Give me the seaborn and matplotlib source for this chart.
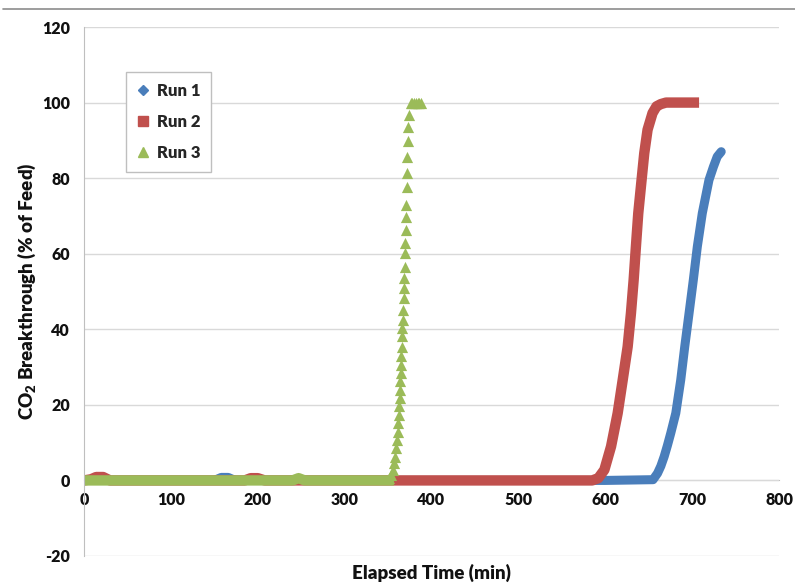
import matplotlib
matplotlib.use('Agg')
import matplotlib.pyplot as plt
from matplotlib.lines import Line2D
import seaborn as sns

# values (time in min, breakthrough in % of feed)
run1_t = [0, 150, 158, 166, 174, 200, 400, 600, 655, 660.2, 664, 667.8, 671.5, 675.4, 681.2,
          686.9, 691.5, 696.5, 701.4, 706.0, 711.7, 719.4, 724.5, 728.9, 733.5]
run1_y = [0, 0, 0.8, 0.8, 0, 0, 0, 0, 0.2, 1.9, 3.8, 6.3, 9.2, 12.5, 17.8,
          26.6, 35.4, 44.3, 53.1, 61.9, 70.7, 79.5, 83.0, 85.7, 87.0]

run2_t = [0, 8, 14, 22, 30, 185, 192, 200, 208, 400, 585, 592, 599, 606.7, 614.3, 620.1,
          625.8, 629.6, 632.7, 635.3, 638.0, 641.8, 644.9, 648.7, 654.4, 659.0, 664.0, 670,
          702]
run2_y = [0, 0.3, 0.9, 0.9, 0, 0, 0.6, 0.6, 0, 0, 0, 0.6, 2.8, 9.0, 17.8, 26.6,
          35.4, 44.3, 53.1, 61.9, 70.7, 79.5, 86.6, 92.8, 97.2, 99.0, 99.6, 100,
          100]

run3_base_t = [0, 240, 247, 254, 350.7]
run3_base_y = [0, 0, 0.6, 0, 0]

run3_t = [350.7, 353.8, 355.7, 357.2, 358.4, 359.1, 360.3, 361.0, 361.8, 362.2, 362.9,
          363.3, 363.7, 364.1, 364.5, 364.9, 365.2, 365.6, 366.0, 366.4, 367.1, 367.5,
          367.9, 368.3, 368.7, 369.1, 369.4, 369.8, 370.2, 370.6, 371.0, 371.3, 371.7,
          372.1, 372.5, 372.9, 374, 376, 378, 380, 382, 384, 386, 388]
run3_y = [0.6, 1.5, 2.8, 4.6, 6.3, 8.5, 10.7, 12.9, 15.2, 17.4, 19.6,
          21.8, 24.0, 26.2, 28.4, 30.6, 32.8, 35.4, 38.1, 40.3, 42.5, 45.1,
          48.2, 50.9, 53.5, 56.6, 60.1, 62.8, 66.3, 69.8, 72.9, 77.6, 81.3,
          85.5, 89.7, 93.6, 96.7, 100, 100, 100, 100, 100, 100, 100]

run_labels = ['Run 1', 'Run 2', 'Run 3']
run_colors = ['#4a7ebb', '#c0504d', '#9bbb59']

x_ticks = [0, 100, 200, 300, 400, 500, 600, 700, 800]
y_ticks = [-20, 0, 20, 40, 60, 80, 100, 120]

sns.set_style('white')
plt.rcParams['font.family'] = ['Lato', 'DejaVu Sans']
plt.rcParams['mathtext.default'] = 'regular'
plt.rcParams['axes.unicode_minus'] = False
WEIGHT = 'heavy'

fig = plt.figure(figsize=(7.95, 5.88), dpi=100)
ax = fig.add_axes([84 / 795, 1 - 556 / 588, (779 - 84) / 795, (556 - 27) / 588])

# dense marker series look like thick bands in the original
sns.lineplot(x=run1_t, y=run1_y, color=run_colors[0], lw=6.5, sort=False,
             estimator=None, ax=ax, solid_capstyle='round')
sns.lineplot(x=run2_t, y=run2_y, color=run_colors[1], lw=7.5, sort=False,
             estimator=None, ax=ax, solid_capstyle='projecting')
sns.lineplot(x=run3_base_t, y=run3_base_y, color=run_colors[2], lw=7.5, sort=False,
             estimator=None, ax=ax, solid_capstyle='projecting')
sns.scatterplot(x=run3_t, y=run3_y, color=run_colors[2], marker='^', s=65,
                linewidth=0, ax=ax, zorder=4)

ax.set_xlim(0, 800)
ax.set_ylim(-20, 120)
ax.set_xticks(x_ticks)
ax.set_yticks(y_ticks)
ax.yaxis.grid(True, color='#d9d9d9', lw=1)
ax.xaxis.grid(False)
ax.set_axisbelow(True)

for s in ['top', 'right']:
  ax.spines[s].set_visible(False)
ax.spines['left'].set_color('#bfbfbf')
ax.spines['bottom'].set_color('#bfbfbf')
ax.spines['bottom'].set_position(('data', 0))
ax.spines['bottom'].set_zorder(0.5)

ax.tick_params(axis='both', which='major', labelsize=11.5, colors='#bfbfbf',
               labelcolor='#111111', length=4, direction='out')
ax.tick_params(axis='y', pad=6)
ax.tick_params(axis='x', pad=4)
for lab in ax.get_xticklabels() + ax.get_yticklabels():
  lab.set_fontweight(WEIGHT)

ax.set_xlabel('Elapsed Time (min)', fontsize=13.5, fontweight=WEIGHT, color='#111111')
ax.set_ylabel(r'CO$_2$ Breakthrough (% of Feed)', fontsize=13.5, fontweight=WEIGHT,
              color='#111111')
ax.xaxis.set_label_coords(0.5, -0.015)
ax.yaxis.set_label_coords(-0.066, 0.5)

handles = [
  Line2D([], [], marker='D', ls='none', color=run_colors[0], ms=5),
  Line2D([], [], marker='s', ls='none', color=run_colors[1], ms=6.5),
  Line2D([], [], marker='^', ls='none', color=run_colors[2], ms=6.5),
]
leg = ax.legend(handles, run_labels, loc='upper left', bbox_to_anchor=(0.06, 0.915),
                frameon=True, fancybox=False, edgecolor='#bfbfbf', framealpha=1,
                prop={'weight': WEIGHT, 'size': 12}, labelspacing=0.9,
                handlelength=0.8, handletextpad=0.4, borderpad=0.65, borderaxespad=0)
leg.get_frame().set_linewidth(1)

# thin rule at the top of the chart area
fig.add_artist(Line2D([3 / 795, 1], [1 - 9 / 588, 1 - 9 / 588],
                      color='#8c8c8c', lw=1.2))

plt.savefig('out.png', dpi=100)
